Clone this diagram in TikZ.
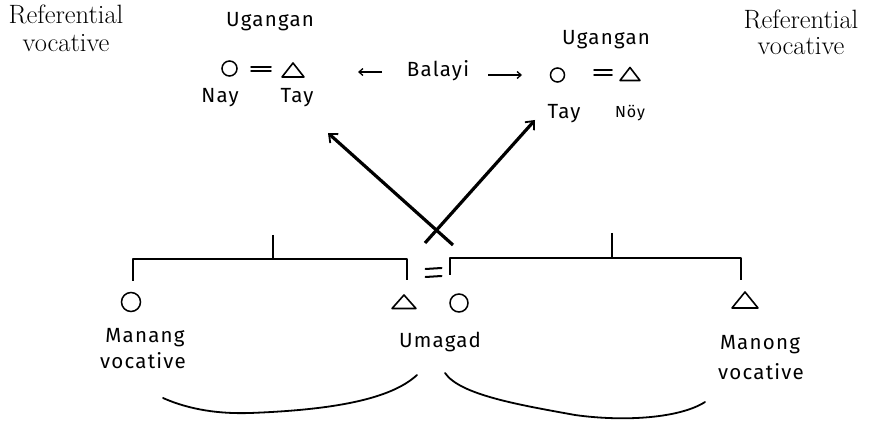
\documentclass[tikz,border=0pt]{standalone}
\usepackage{fontspec}
\newfontfamily\hand{Fira Sans}[LetterSpace=6]
\usetikzlibrary{arrows.meta}
\begin{document}
\begin{tikzpicture}[x=1pt,y=-1pt,
  reftxt/.style={font=\fontsize{26.5}{30}\selectfont, anchor=base, inner sep=0},
  hw/.style={font=\hand\fontsize{20.5}{24}\selectfont, anchor=base, inner sep=0},
  hws/.style={font=\hand\fontsize{16}{18}\selectfont, anchor=base, inner sep=0},
  circ/.style={circle, draw, line width=1.5pt, inner sep=0},
  symline/.style={line width=1.6pt, line join=round},
  eqline/.style={line width=1.5pt, line cap=round},
  bigarr/.style={line width=3.2pt, -{Straight Barb[length=7pt, width=12pt, line width=1.8pt]}},
  smallarr/.style={line width=1.3pt, -{Straight Barb[length=4pt, width=7pt]}},
  bracket/.style={line width=2.6pt, line join=round},
  brace/.style={line width=1.8pt, line cap=round}]
\useasboundingbox (0,0) rectangle (871,422);

% Referential vocative labels
\node[reftxt] (refL1) at (66,24) {Referential};
\node[reftxt] (refL2) at (66,52) {vocative};
\node[reftxt] (refR1) at (801,29) {Referential};
\node[reftxt] (refR2) at (801,55) {vocative};

% Top left: Ugangan
\node[hw] (ugL) at (270,27) {Ugangan};
\node[circ, minimum size=15pt] (cL) at (229.5,68.5) {};
\coordinate (eqL) at (261,69);
\draw[eqline] (eqL) +(-10,-2) -- +(10,-2) +(-10,2) -- +(10,2);
\coordinate (tL) at (293,70);
\draw[symline] (tL) +(-11,7) -- +(0,-7) -- +(11,7) -- cycle;
\node[hw] (nayL) at (220,103) {Nay};
\node[hw] (tayL) at (297,103) {Tay};

% Balayi with arrows
\node[hw] (bal) at (438,77) {Balayi};
\coordinate (alA) at (382,72);
\coordinate (alB) at (358,72);
\draw[smallarr] (alA) -- (alB);
\coordinate (arA) at (488,75);
\coordinate (arB) at (522,75);
\draw[smallarr] (arA) -- (arB);

% Top right: Ugangan
\node[hw] (ugR) at (606,45) {Ugangan};
\node[circ, minimum size=14pt] (cR) at (557.5,75) {};
\coordinate (eqR) at (603,72.5);
\draw[eqline] (eqR) +(-9,-2.5) -- +(9,-2.5) +(-9,2.5) -- +(9,2.5);
\coordinate (tR) at (630,74);
\draw[symline] (tR) +(-10,6.5) -- +(0,-6.5) -- +(10,6.5) -- cycle;
\node[hw] (tayR) at (564,119) {Tay};
\node[hws] (nayR) at (630,118) {Nöy};

% Crossing arrows
\coordinate (xA) at (453,245);
\coordinate (xB) at (328,133);
\coordinate (yA) at (425,243);
\coordinate (yB) at (535,120);
\draw[bigarr] (xA) -- (xB);
\draw[bigarr] (yA) -- (yB);

% Lower left sibling set
\coordinate (b1a) at (133,281);
\coordinate (b1b) at (133,259);
\coordinate (b1c) at (407,259);
\coordinate (b1d) at (407,280);
\coordinate (b1t) at (273,235);
\coordinate (b1m) at (273,259);
\draw[bracket] (b1a) -- (b1b) -- (b1c) -- (b1d);
\draw[bracket] (b1t) -- (b1m);

% marriage sign
\coordinate (eqM) at (433.5,272.5);
\draw[eqline, line width=2pt] (eqM) +(-8,-3.5) -- +(8,-4.5) +(-8,4.5) -- +(8,3.5);

% Lower right sibling set
\coordinate (b2a) at (450,275);
\coordinate (b2b) at (450,258);
\coordinate (b2c) at (741,258);
\coordinate (b2d) at (741,280);
\coordinate (b2t) at (612,233);
\coordinate (b2m) at (612,258);
\draw[bracket] (b2a) -- (b2b) -- (b2c) -- (b2d);
\draw[bracket] (b2t) -- (b2m);

% Lower symbols
\node[circ, minimum size=19pt] (c1) at (131,302) {};
\coordinate (t1) at (404,302);
\draw[symline] (t1) +(-12,6.5) -- +(0,-7) -- +(12,6.5) -- cycle;
\node[circ, minimum size=18pt] (c2) at (459,303) {};
\coordinate (t2) at (745,300);
\draw[symline] (t2) +(-13,8) -- +(0,-8) -- +(13,8) -- cycle;

% Lower labels
\node[hw] (man1) at (145,343) {Manang};
\node[hw] (voc1) at (143,368) {vocative};
\node[hw] (uma) at (440,348) {Umagad};
\node[hw] (man2) at (760,350) {Manong};
\node[hw] (voc2) at (761,380) {vocative};

% Braces
\coordinate (brL1) at (163,398);
\coordinate (brL2) at (250,413);
\coordinate (brL3) at (417,375);
\draw[brace] (brL1) .. controls (190,410) and (220,414) .. (brL2)
  .. controls (330,410) and (390,400) .. (brL3);
\coordinate (brR1) at (445,373);
\coordinate (brR2) at (575,415);
\coordinate (brR3) at (705,402);
\draw[brace] (brR1) .. controls (460,395) and (520,405) .. (brR2)
  .. controls (625,422) and (680,418) .. (brR3);
\end{tikzpicture}
\end{document}
